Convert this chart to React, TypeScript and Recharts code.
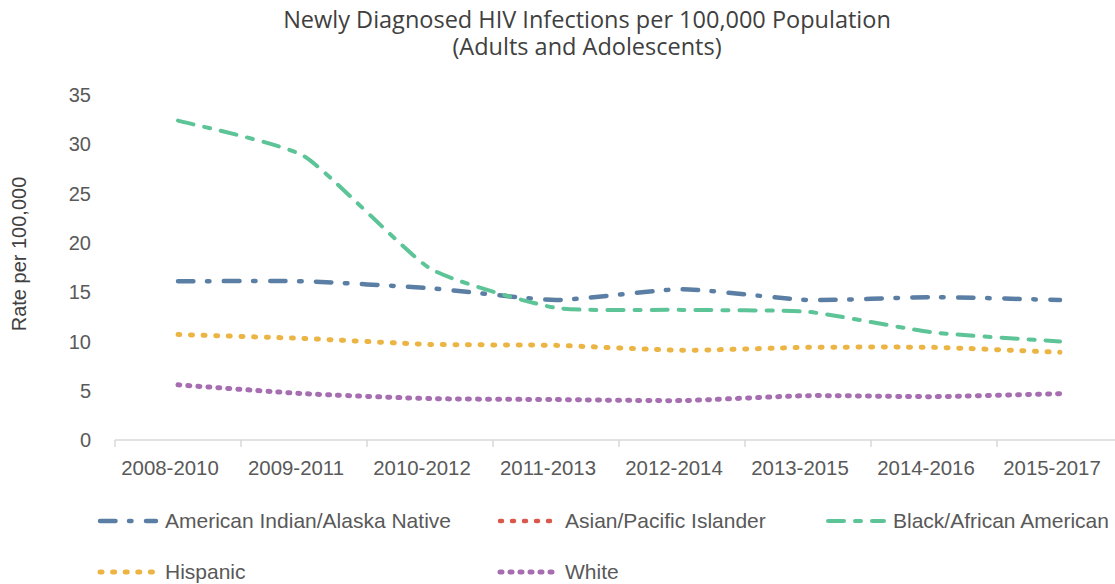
import React from "react";
import { LineChart, Line, XAxis, YAxis } from "recharts";

const categories = [
  "2008-2010",
  "2009-2011",
  "2010-2012",
  "2011-2013",
  "2012-2014",
  "2013-2015",
  "2014-2016",
  "2015-2017",
];

const americanIndianAlaskaNative = [16.1, 16.1, 15.4, 14.2, 15.3, 14.2, 14.5, 14.2];
const asianPacificIslander: (number | null)[] = [null, null, null, null, null, null, null, null];
const blackAfricanAmerican = [32.4, 28.8, 17.4, 13.4, 13.2, 13.0, 10.9, 10.0];
const hispanic = [10.7, 10.3, 9.7, 9.6, 9.1, 9.4, 9.4, 8.9];
const white = [5.6, 4.7, 4.2, 4.1, 4.0, 4.5, 4.4, 4.7];

const yTicks = [0, 5, 10, 15, 20, 25, 30, 35];

const titleLines = ["Newly Diagnosed HIV Infections per 100,000 Population", "(Adults and Adolescents)"];

const FONT = "'Liberation Sans', Arial, sans-serif";
const TEXT_COLOR = "#595959";
const AXIS_COLOR = "#D9D9D9";

const series = [
  { key: "aian", name: "American Indian/Alaska Native", values: americanIndianAlaskaNative, color: "#5B7FA4", width: 4.5, dash: "15.5 13.5 2.5 14.5" },
  { key: "api", name: "Asian/Pacific Islander", values: asianPacificIslander, color: "#D9574B", width: 4.5, dash: "2 10" },
  { key: "black", name: "Black/African American", values: blackAfricanAmerican, color: "#5CC497", width: 4, dash: "16 11 6 11" },
  { key: "hispanic", name: "Hispanic", values: hispanic, color: "#EBB443", width: 5, dash: "2 10.6" },
  { key: "white", name: "White", values: white, color: "#A66EB1", width: 5, dash: "2 8" },
];

const data = categories.map((category, i) => {
  const row: Record<string, any> = { x: i + 0.5, category };
  series.forEach((s) => {
    row[s.key] = s.values[i];
  });
  return row;
});

// boundaries get tick marks, band centers get the labels
const xTicks = categories.flatMap((_, i) => [i, i + 0.5]).concat(categories.length);

// Excel-like smoothing: cardinal spline with some tension, tighter than monotone
const smoothCurve = (tension: number) => {
  const k = (1 - tension) / 6;
  return (context: any) => {
    let pts: number[][] = [];
    return {
      areaStart() {},
      areaEnd() {},
      lineStart() {
        pts = [];
      },
      point(x: number, y: number) {
        pts.push([+x, +y]);
      },
      lineEnd() {
        if (!pts.length) return;
        context.moveTo(pts[0][0], pts[0][1]);
        for (let i = 0; i < pts.length - 1; i++) {
          const p0 = pts[i - 1] || pts[i];
          const p1 = pts[i];
          const p2 = pts[i + 1];
          const p3 = pts[i + 2] || p2;
          context.bezierCurveTo(
            p1[0] + k * (p2[0] - p0[0]),
            p1[1] + k * (p2[1] - p0[1]),
            p2[0] - k * (p3[0] - p1[0]),
            p2[1] - k * (p3[1] - p1[1]),
            p2[0],
            p2[1]
          );
        }
      },
    };
  };
};
const curve = smoothCurve(0.5);

const XTick = (props: any) => {
  const { x, y, payload } = props;
  const v = payload.value;
  if (Number.isInteger(v)) {
    return <line x1={x} x2={x} y1={y} y2={y + 7} stroke={AXIS_COLOR} strokeWidth={1.5} />;
  }
  return (
    <text x={x - 8} y={y + 35} textAnchor="middle" fill={TEXT_COLOR} fontSize={20.4} fontFamily={FONT}>
      {categories[Math.floor(v)]}
    </text>
  );
};

const legendRows = [
  [series[0], series[1], series[2]],
  [series[3], series[4]],
];
const legendCols = [97, 497, 825];
const legendTops = [521, 572];

const Legend = () => (
  <>
    {legendRows.map((row, r) =>
      row.map((s, c) => (
        <div
          key={s.key}
          style={{
            position: "absolute",
            left: legendCols[c],
            top: legendTops[r] - 14,
            height: 28,
            display: "flex",
            alignItems: "center",
            whiteSpace: "nowrap",
            fontFamily: FONT,
            fontSize: 21,
            color: TEXT_COLOR,
          }}
        >
          <svg width={62} height={10} style={{ marginRight: 6 }}>
            <line
              x1={3}
              x2={59}
              y1={5}
              y2={5}
              stroke={s.color}
              strokeWidth={s.width}
              strokeDasharray={s.dash}
              strokeLinecap="round"
            />
          </svg>
          {s.name}
        </div>
      ))
    )}
  </>
);

export default function App() {
  return (
    <div
      style={{
        position: "absolute",
        left: 0,
        top: 0,
        width: 1115,
        height: 584,
        overflow: "hidden",
        background: "#fff",
      }}
    >
      <svg width={1115} height={62} style={{ position: "absolute", left: 0, top: 0 }}>
        {titleLines.map((t, i) => (
          <text
            key={t}
            x={587}
            y={28 + i * 27}
            textAnchor="middle"
            fill="#404040"
            fontSize={23.5}
            fontFamily="'Open Sans', sans-serif"
          >
            {t}
          </text>
        ))}
      </svg>
      <LineChart
        width={1130}
        height={584}
        data={data}
        margin={{ top: 95, right: 7, bottom: 94, left: 0 }}
        style={{ position: "absolute", left: 0, top: 0 }}
      >
        <XAxis
          dataKey="x"
          type="number"
          domain={[0, categories.length]}
          ticks={xTicks}
          interval={0}
          allowDataOverflow
          height={50}
          tickSize={0}
          tickMargin={0}
          tickLine={false}
          axisLine={{ stroke: AXIS_COLOR, strokeWidth: 1.5 }}
          tick={<XTick />}
        />
        <YAxis
          type="number"
          domain={[0, 35]}
          ticks={yTicks}
          interval={0}
          width={115}
          axisLine={false}
          tickLine={false}
          tickSize={0}
          tickMargin={24}
          tick={{ fontSize: 20, fill: TEXT_COLOR, fontFamily: FONT }}
          label={{
            content: () => (
              <text
                x={0}
                y={0}
                transform="translate(26, 254) rotate(-90)"
                textAnchor="middle"
                fill="#404040"
                fontSize={20}
                fontFamily={FONT}
              >
                Rate per 100,000
              </text>
            ),
          }}
        />
        {series.map((s) => (
          <Line
            key={s.key}
            dataKey={s.key}
            name={s.name}
            type={curve as any}
            stroke={s.color}
            strokeWidth={s.width}
            strokeDasharray={s.dash}
            strokeLinecap="round"
            dot={false}
            activeDot={false}
            isAnimationActive={false}
          />
        ))}
      </LineChart>
      <Legend />
    </div>
  );
}
